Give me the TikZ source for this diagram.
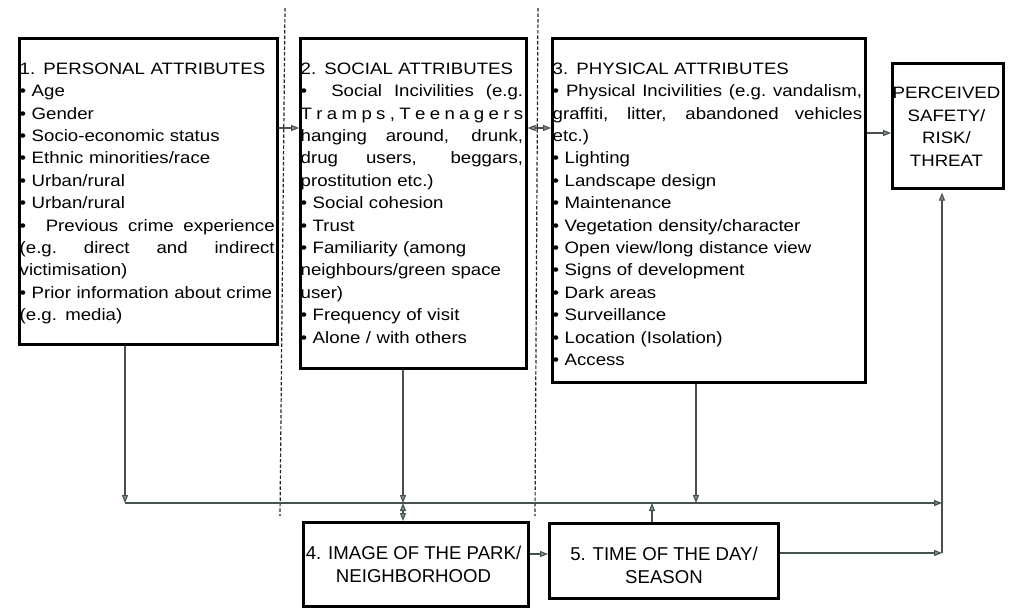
\documentclass[tikz,border=0pt]{standalone}
\usepackage{fontspec}
\setmainfont{Liberation Sans}[FakeStretch=1.13]
\newfontfamily\plainfont{Liberation Sans}
\usetikzlibrary{arrows.meta}
\definecolor{lg}{RGB}{70,80,80}
\newcommand\jl[2]{\makebox[#1][s]{\spaceskip=\fontdimen2\font plus 1fil\xspaceskip=\spaceskip #2}}
\begin{document}
\begin{tikzpicture}[x=1pt,y=-1pt,
  box/.style={draw=black, line width=2.6pt, inner sep=0pt, anchor=north west, rectangle},
  txt/.style={anchor=north west, inner sep=0pt, align=left, font=\fontsize{16.5}{22.4}\selectfont},
  ctxt/.style={inner sep=0pt, align=center, font=\fontsize{16.5}{22.4}\selectfont},
  btxt/.style={inner sep=0pt, align=center, font=\plainfont\fontsize{18.6}{23}\selectfont},
  tip/.style={Triangle[length=8pt,width=6pt,fill=lg!60]},
  conn/.style={draw=lg, line width=1.1pt, -{Triangle[length=8pt,width=6pt,fill=lg!60]}},
  bidir/.style={draw=lg, line width=1.1pt, {Triangle[length=8pt,width=6pt,fill=lg!60]}-{Triangle[length=8pt,width=6pt,fill=lg!60]}},
  divider/.style={draw=black!85, line width=1.2pt, dash pattern=on 3.5pt off 2pt}]
\useasboundingbox (0,0) rectangle (1009,608);

% dividers
\draw[divider] (285,8) -- (280,516);
\draw[divider] (538,8) -- (535,516);

% boxes
\node[box, minimum width=258pt, minimum height=306pt] (b1) at (18,37) {};
\node[box, minimum width=226pt, minimum height=330pt] (b2) at (299,37) {};
\node[box, minimum width=313pt, minimum height=344pt] (b3) at (551,37) {};
\node[box, minimum width=111pt, minimum height=125pt] (bP) at (891,62) {};
\node[box, minimum width=225pt, minimum height=84pt] (b4) at (302,521) {};
\node[box, minimum width=229pt, minimum height=75pt] (b5) at (548,522) {};

% texts
\node[txt, text width=255pt] (t1) at (19.5,60) {\noindent\rule{0pt}{14pt}1. PERSONAL ATTRIBUTES\\
• Age\\
• Gender\\
• Socio-economic status\\
• Ethnic minorities/race\\
• Urban/rural\\
• Urban/rural\\
\jl{255pt}{•\ \ Previous crime experience}\\
\jl{255pt}{(e.g.\ direct and indirect}\\
victimisation)\\
• Prior information about crime\\
(e.g. media)};

\node[txt, text width=222.5pt] (t2) at (300.5,60) {\noindent\rule{0pt}{14pt}2. SOCIAL ATTRIBUTES\\
\jl{222.5pt}{•\ \ Social Incivilities (e.g.}\\
\jl{222.5pt}{T\hfill r\hfill a\hfill m\hfill p\hfill s\hfill ,\hfill T\hfill e\hfill e\hfill n\hfill a\hfill g\hfill e\hfill r\hfill s}\\
\jl{222.5pt}{hanging around, drunk,}\\
\jl{222.5pt}{drug users, beggars,}\\
prostitution etc.)\\
• Social cohesion\\
• Trust\\
• Familiarity (among\\
neighbours/green space\\
user)\\
• Frequency of visit\\
• Alone / with others};

\node[txt, text width=309.5pt] (t3) at (552.5,60) {\noindent\rule{0pt}{14pt}3. PHYSICAL ATTRIBUTES\\
\jl{309.5pt}{• Physical Incivilities (e.g.\ vandalism,}\\
\jl{309.5pt}{graffiti, litter, abandoned vehicles}\\
etc.)\\
• Lighting\\
• Landscape design\\
• Maintenance\\
• Vegetation density/character\\
• Open view/long distance view\\
• Signs of development\\
• Dark areas\\
• Surveillance\\
• Location (Isolation)\\
• Access};

\node[ctxt] (tP) at (946.5,126.7) {PERCEIVED\\SAFETY/\\RISK/\\THREAT};
\node[btxt] (t4) at (413.5,564.5) {4. IMAGE OF THE PARK/\\NEIGHBORHOOD};
\node[btxt] (t5) at (664,565) {5. TIME OF THE DAY/\\SEASON};

% connector coordinates
\coordinate (jL) at (125,503);
\coordinate (jE) at (942,503);
\coordinate (j2) at (403,503);
\coordinate (j3) at (696,503);
\coordinate (j5) at (652,503);
\coordinate (r1) at (0,128);
\coordinate (r3) at (0,133);
\coordinate (r45) at (0,554);
\coordinate (r5) at (0,553);
\coordinate (c5) at (jE |- r5);

% connectors
\draw[conn] (b1.east |- r1) -- (b2.west |- r1);
\draw[bidir] (b2.east |- r1) -- (b3.west |- r1);
\draw[conn] (b3.east |- r3) -- (bP.west |- r3);
\draw[conn] (b1.south -| jL) -- (jL);
\draw[conn, line width=1.3pt] (jL) -- (jE);
\draw[conn] (b2.south -| j2) -- (j2);
\draw[bidir] (j2) -- (b4.north -| j2);
\draw[conn] (b3.south -| j3) -- (j3);
\draw[conn] (b5.north -| j5) -- (j5);
\draw[conn] (b4.east |- r45) -- (b5.west |- r45);
\draw[conn] (b5.east |- r5) -- (c5);
\draw[conn, shorten >=3pt] (c5) -- (bP.south -| c5);
\end{tikzpicture}
\end{document}
